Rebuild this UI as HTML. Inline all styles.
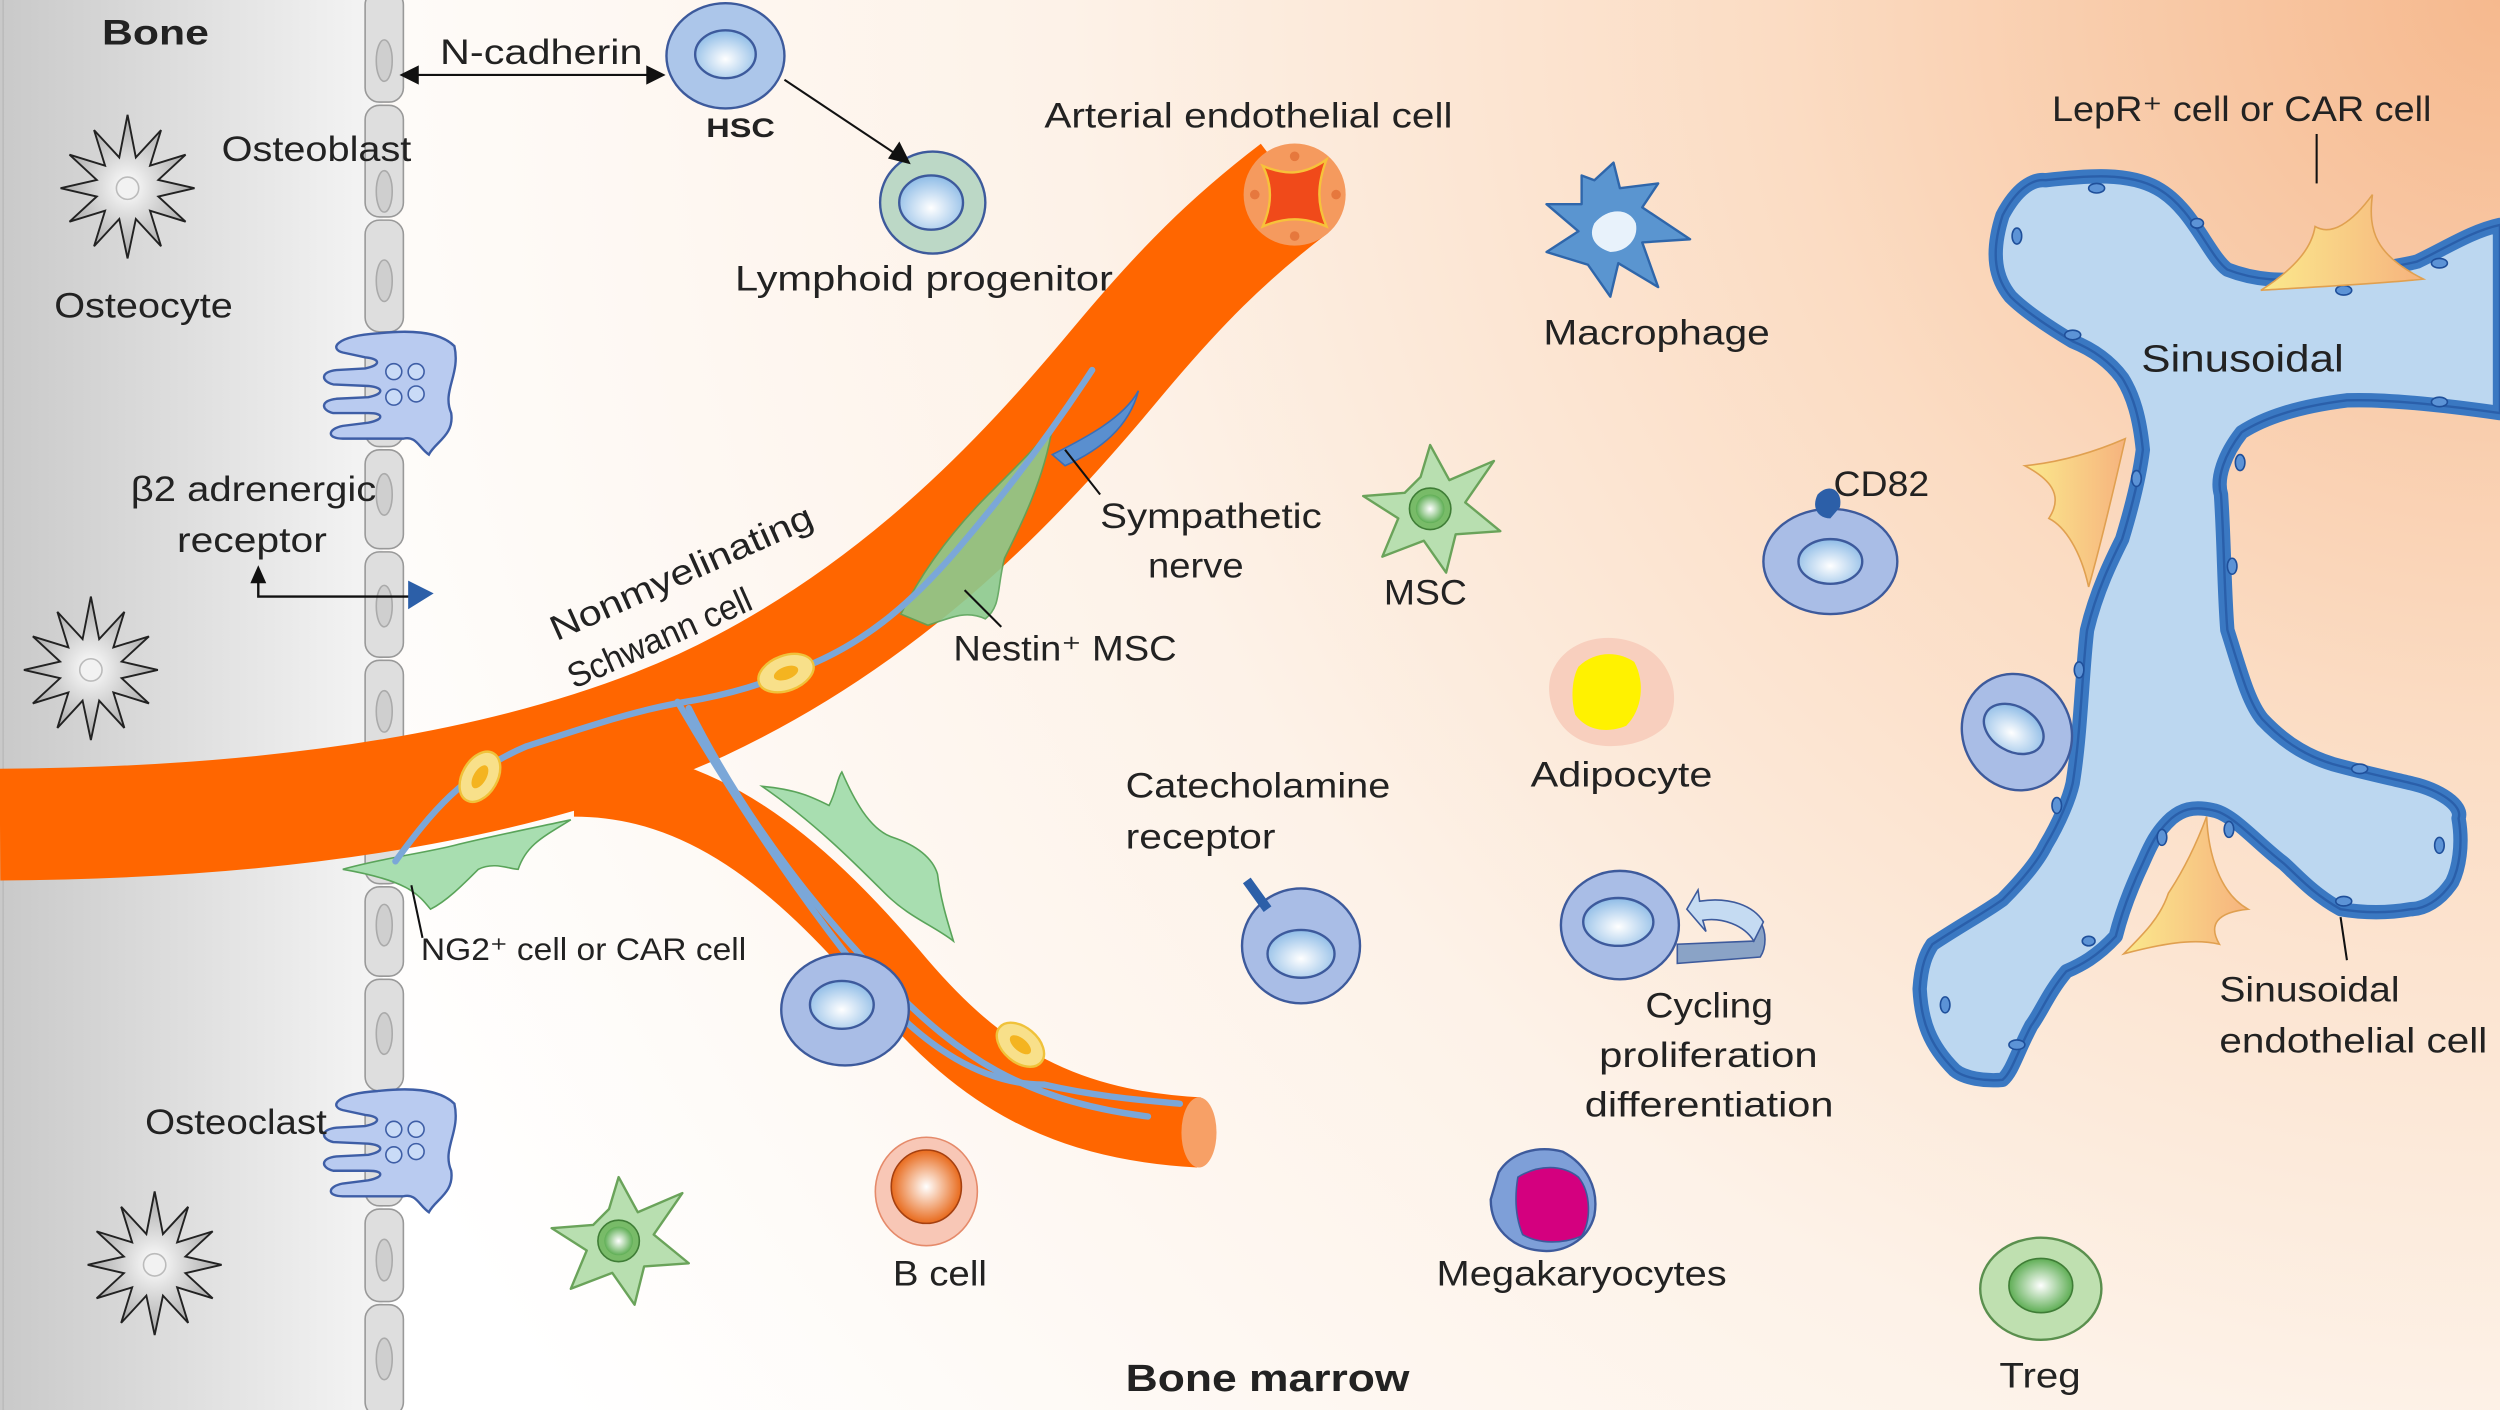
<!DOCTYPE html>
<html><head><meta charset="utf-8"><style>
html,body{margin:0;padding:0;width:2500px;height:1410px;overflow:hidden;background:#fff}
svg{display:block}
text{font-family:"Liberation Sans",sans-serif;fill:#222}
</style></head><body>
<svg width="2500" height="1410" viewBox="0 0 1568 884" preserveAspectRatio="none" xmlns="http://www.w3.org/2000/svg">
<defs>
<radialGradient id="bg" cx="1568" cy="0" r="1500" gradientUnits="userSpaceOnUse">
<stop offset="0" stop-color="#f6b98e"/><stop offset="0.3" stop-color="#fbdcc3"/><stop offset="0.6" stop-color="#fdf2e8"/><stop offset="1" stop-color="#ffffff"/>
</radialGradient>
<linearGradient id="bone" x1="0" x2="1" y1="0" y2="0"><stop offset="0" stop-color="#c9c9c9"/><stop offset="1" stop-color="#f5f5f5"/></linearGradient>
<radialGradient id="star" cx="0.5" cy="0.5" r="0.5"><stop offset="0" stop-color="#ffffff"/><stop offset="1" stop-color="#a8a8a8"/></radialGradient>
<radialGradient id="nuc" cx="0.5" cy="0.6" r="0.6"><stop offset="0" stop-color="#ffffff"/><stop offset="1" stop-color="#8dbbe6"/></radialGradient>
<radialGradient id="gnuc" cx="0.5" cy="0.5" r="0.5"><stop offset="0" stop-color="#ffffff"/><stop offset="1" stop-color="#5fae55"/></radialGradient>
<radialGradient id="onuc" cx="0.5" cy="0.5" r="0.5"><stop offset="0" stop-color="#ffffff"/><stop offset="1" stop-color="#e86a1c"/></radialGradient>
<linearGradient id="yel" x1="0" x2="1"><stop offset="0" stop-color="#fbe98c"/><stop offset="1" stop-color="#f6b37e"/></linearGradient>
<symbol id="ost" viewBox="-45 -45 90 90" overflow="visible">
<polygon points="42,0 19.3,5.2 36.4,21 14.1,14.1 21,36.4 5.2,19.3 0,44 -5.2,19.3 -21,36.4 -14.1,14.1 -36.4,21 -19.3,5.2 -42,0 -19.3,-5.2 -36.4,-21 -14.1,-14.1 -21,-36.4 -5.2,-19.3 0,-46 5.2,-19.3 21,-36.4 14.1,-14.1 36.4,-21 19.3,-5.2" fill="url(#star)" stroke="#222" stroke-width="1.2"/>
<circle r="7" fill="#f2f2f2" stroke="#bbb"/>
</symbol>
<symbol id="clast" viewBox="-45 -40 90 80" overflow="visible">
<path d="M-8,-36 C10,-38 30,-38 40,-28 C44,-10 32,0 38,14 C40,28 28,32 24,40 C18,36 16,28 8,30 L-30,30 C-40,30 -40,24 -30,22 L-14,20 C-4,18 -4,14 -14,14 L-36,14 C-44,12 -44,6 -34,5 L-14,4 C-4,2 -4,-2 -14,-3 L-36,-4 C-44,-6 -44,-12 -34,-13 L-16,-14 C-6,-16 -6,-20 -16,-21 L-30,-24 C-38,-26 -36,-34 -8,-36Z" fill="#b9cbf0" stroke="#3e5ea6" stroke-width="1.5"/>
<circle cx="2" cy="-12" r="5" fill="#c9dbf7" stroke="#3e5ea6"/><circle cx="16" cy="-12" r="5" fill="#c9dbf7" stroke="#3e5ea6"/>
<circle cx="2" cy="4" r="5" fill="#c9dbf7" stroke="#3e5ea6"/><circle cx="16" cy="2" r="5" fill="#c9dbf7" stroke="#3e5ea6"/>
</symbol>
<symbol id="gstar" viewBox="-45 -45 90 90" overflow="visible">
<path d="M-6,-20 L0,-40 L12,-18 L40,-30 L22,-4 L44,14 L16,16 L10,40 L-4,20 L-30,30 L-20,6 L-42,-8 L-16,-10Z" fill="#b8dfb0" stroke="#6aa35a" stroke-width="1.5" stroke-linejoin="round"/>
<circle r="13" fill="#78bb68" stroke="#3f7d36"/><circle r="9" fill="url(#gnuc)"/>
</symbol>
</defs>

<rect width="1568" height="884" fill="url(#bg)"/>
<rect x="0" y="0" width="240" height="884" fill="url(#bone)"/>
<line x1="2" y1="0" x2="2" y2="884" stroke="#bbb"/>

<!-- osteoblast column -->
<g fill="#dedede" stroke="#999" stroke-width="1">
<rect x="229" y="-6" width="24" height="70" rx="9"/><rect x="229" y="66" width="24" height="70" rx="9"/>
<rect x="229" y="138" width="24" height="70" rx="9"/><rect x="229" y="210" width="24" height="70" rx="9"/>
<rect x="229" y="282" width="24" height="62" rx="9"/><rect x="229" y="346" width="24" height="66" rx="9"/>
<rect x="229" y="414" width="24" height="68" rx="9"/><rect x="229" y="484" width="24" height="70" rx="9"/>
<rect x="229" y="556" width="24" height="56" rx="9"/><rect x="229" y="614" width="24" height="70" rx="9"/>
<rect x="229" y="686" width="24" height="70" rx="9"/><rect x="229" y="758" width="24" height="58" rx="9"/>
<rect x="229" y="818" width="24" height="70" rx="9"/>
</g>
<g fill="#cfcfcf" stroke="#aaa">
<ellipse cx="241" cy="38" rx="5" ry="13"/><ellipse cx="241" cy="120" rx="5" ry="13"/><ellipse cx="241" cy="176" rx="5" ry="13"/><ellipse cx="241" cy="310" rx="5" ry="13"/><ellipse cx="241" cy="380" rx="5" ry="13"/><ellipse cx="241" cy="446" rx="5" ry="13"/><ellipse cx="241" cy="580" rx="5" ry="13"/><ellipse cx="241" cy="648" rx="5" ry="13"/><ellipse cx="241" cy="790" rx="5" ry="13"/><ellipse cx="241" cy="852" rx="5" ry="13"/>
</g>

<use href="#ost" x="35" y="73" width="90" height="90"/>
<use href="#ost" x="12" y="375" width="90" height="90"/>
<use href="#ost" x="52" y="748" width="90" height="90"/>
<use href="#clast" x="200" y="205" width="90" height="80"/>
<use href="#clast" x="200" y="680" width="90" height="80"/>

<!-- vessels -->
<path d="M0,517 C180,516 330,492 440,442 C560,386 640,300 700,228 C740,180 770,150 812,118" fill="none" stroke="#ff6600" stroke-width="70"/>
<path d="M360,490 C440,490 500,540 560,610 C610,670 660,705 752,710" fill="none" stroke="#ff6600" stroke-width="44"/>
<ellipse cx="752" cy="710" rx="11" ry="22" fill="#f7a066"/>
<circle cx="812" cy="122" r="32" fill="#f59a5e"/>
<path d="M792,104 C806,110 818,110 832,100 C826,116 826,128 832,142 C818,136 806,136 792,142 C798,128 798,116 792,104Z" fill="#f04a1a" stroke="#f7c23a" stroke-width="1.5"/>
<g fill="#e06a30" opacity="0.7"><circle cx="812" cy="98" r="3"/><circle cx="838" cy="122" r="3"/><circle cx="812" cy="148" r="3"/><circle cx="787" cy="122" r="3"/></g>

<!-- green cells on vessel -->
<path d="M565,385 C580,355 600,330 620,310 C640,290 650,280 660,268 C655,300 640,330 630,350 C625,370 628,380 618,388 C605,382 595,388 582,392Z" fill="#8cca8e" stroke="#5aa45a" opacity="0.9"/>
<path d="M215,545 C240,538 265,535 285,530 C305,525 330,520 358,514 C340,525 330,530 325,545 C320,545 310,540 300,545 C290,555 280,565 270,570 C262,560 255,552 215,545Z" fill="#a8deb0" stroke="#5aa45a"/>
<path d="M478,493 C500,495 510,500 520,505 C525,495 525,488 528,484 C535,500 545,520 560,525 C575,530 585,538 588,548 C590,565 595,580 598,590 C585,580 570,575 555,560 C535,540 510,515 478,493Z" fill="#a8deb0" stroke="#5aa45a"/>

<!-- nerves -->
<g fill="none" stroke="#7ba7d8" stroke-width="4" stroke-linecap="round">
<path d="M248,540 C270,510 290,485 330,468 C370,455 400,445 430,440 C460,435 480,428 500,420 C540,405 570,380 600,345 C630,310 660,270 685,232"/>
<path d="M425,440 C460,500 500,560 540,610 C580,660 620,680 655,680 C690,688 720,690 740,692"/>
<path d="M432,444 C470,520 520,580 560,620 C600,660 640,690 720,700"/>
</g>
<path d="M660,285 C680,275 705,262 714,245 C708,268 690,282 668,292Z" fill="#5a8fcf" stroke="#3b6eb5"/>
<!-- schwann cells -->
<g fill="#f8e08a" stroke="#f0c23a" stroke-width="1.5">
<ellipse cx="493" cy="422" rx="18" ry="11" transform="rotate(-20 493 422)"/>
<ellipse cx="301" cy="487" rx="11" ry="17" transform="rotate(30 301 487)"/>
<ellipse cx="640" cy="655" rx="17" ry="11" transform="rotate(40 640 655)"/>
</g>
<g fill="#f4b420"><ellipse cx="493" cy="422" rx="8" ry="4" transform="rotate(-20 493 422)"/><ellipse cx="301" cy="487" rx="4" ry="8" transform="rotate(30 301 487)"/><ellipse cx="640" cy="655" rx="8" ry="4" transform="rotate(40 640 655)"/></g>

<!-- sinusoid -->
<path d="M1256,135 C1265,118 1275,112 1283,113 C1310,110 1335,108 1353,118 C1375,130 1385,160 1397,169 C1420,178 1440,175 1450,175 C1480,170 1500,168 1516,164 C1535,155 1550,145 1568,141 L1568,259 C1540,255 1500,250 1472,251 C1440,255 1420,262 1406,271 C1395,285 1390,300 1393,310 C1395,340 1395,370 1397,395 C1405,420 1410,440 1419,451 C1435,468 1450,475 1463,479 C1485,485 1500,488 1512,491 C1530,495 1545,505 1542,513 C1545,530 1542,545 1538,553 C1530,565 1520,570 1512,570 C1495,573 1480,572 1468,570 C1450,560 1440,548 1432,541 C1415,528 1400,510 1388,508 C1375,505 1368,508 1362,513 C1352,522 1348,532 1344,541 C1335,560 1330,575 1327,587 C1315,600 1305,605 1296,609 C1285,622 1280,635 1274,643 C1265,660 1262,672 1256,677 C1245,678 1232,676 1226,671 C1210,655 1205,640 1204,620 C1205,605 1208,598 1212,592 C1230,580 1245,572 1256,564 C1268,552 1278,540 1283,530 C1292,515 1298,500 1300,491 C1305,460 1306,420 1309,395 C1315,370 1325,350 1331,338 C1338,315 1342,298 1344,282 C1342,262 1338,248 1331,237 C1322,225 1310,218 1300,214 C1285,205 1270,195 1261,186 C1252,175 1248,160 1256,135Z" fill="#bcd7f0" stroke="#3a78c2" stroke-width="9" stroke-linejoin="round"/>
<path d="M1256,135 C1265,118 1275,112 1283,113 C1310,110 1335,108 1353,118 C1375,130 1385,160 1397,169 C1420,178 1440,175 1450,175 C1480,170 1500,168 1516,164 C1535,155 1550,145 1568,141 L1568,259 C1540,255 1500,250 1472,251 C1440,255 1420,262 1406,271 C1395,285 1390,300 1393,310 C1395,340 1395,370 1397,395 C1405,420 1410,440 1419,451 C1435,468 1450,475 1463,479 C1485,485 1500,488 1512,491 C1530,495 1545,505 1542,513 C1545,530 1542,545 1538,553 C1530,565 1520,570 1512,570 C1495,573 1480,572 1468,570 C1450,560 1440,548 1432,541 C1415,528 1400,510 1388,508 C1375,505 1368,508 1362,513 C1352,522 1348,532 1344,541 C1335,560 1330,575 1327,587 C1315,600 1305,605 1296,609 C1285,622 1280,635 1274,643 C1265,660 1262,672 1256,677 C1245,678 1232,676 1226,671 C1210,655 1205,640 1204,620 C1205,605 1208,598 1212,592 C1230,580 1245,572 1256,564 C1268,552 1278,540 1283,530 C1292,515 1298,500 1300,491 C1305,460 1306,420 1309,395 C1315,370 1325,350 1331,338 C1338,315 1342,298 1344,282 C1342,262 1338,248 1331,237 C1322,225 1310,218 1300,214 C1285,205 1270,195 1261,186 C1252,175 1248,160 1256,135Z" fill="none" stroke="#1f4f9a" stroke-width="1.5" opacity="0.6" transform="translate(0,0)"/>
<g fill="#5c93d6" stroke="#1f4f9a" stroke-width="1">
<ellipse cx="1265" cy="148" rx="3" ry="5"/><ellipse cx="1315" cy="118" rx="5" ry="3"/><ellipse cx="1378" cy="140" rx="4" ry="3"/><ellipse cx="1470" cy="182" rx="5" ry="3"/><ellipse cx="1530" cy="165" rx="5" ry="3"/><ellipse cx="1530" cy="252" rx="5" ry="3"/><ellipse cx="1405" cy="290" rx="3" ry="5"/><ellipse cx="1400" cy="355" rx="3" ry="5"/><ellipse cx="1480" cy="482" rx="5" ry="3"/><ellipse cx="1530" cy="530" rx="3" ry="5"/><ellipse cx="1470" cy="565" rx="5" ry="3"/><ellipse cx="1398" cy="520" rx="3" ry="5"/><ellipse cx="1356" cy="525" rx="3" ry="5"/><ellipse cx="1310" cy="590" rx="4" ry="3"/><ellipse cx="1265" cy="655" rx="5" ry="3"/><ellipse cx="1220" cy="630" rx="3" ry="5"/><ellipse cx="1290" cy="505" rx="3" ry="5"/><ellipse cx="1304" cy="420" rx="3" ry="5"/><ellipse cx="1340" cy="300" rx="3" ry="5"/><ellipse cx="1300" cy="210" rx="5" ry="3"/></g>
<!-- LepR cells -->
<path d="M1418,182 C1440,168 1450,155 1452,142 C1462,148 1475,140 1488,122 C1485,145 1490,160 1520,175 C1490,178 1450,180 1418,182Z" fill="url(#yel)" stroke="#e0a050"/>
<path d="M1333,275 C1310,285 1290,290 1270,292 C1285,300 1295,310 1285,325 C1295,330 1305,345 1310,368 C1318,340 1325,310 1333,275Z" fill="url(#yel)" stroke="#e0a050"/>
<path d="M1332,598 C1345,585 1355,575 1360,560 C1370,545 1378,528 1384,512 C1385,535 1392,560 1410,570 C1390,572 1385,580 1392,592 C1375,588 1355,592 1332,598Z" fill="url(#yel)" stroke="#e0a050"/>

<!-- cells -->
<g stroke="#3d5a9c" stroke-width="1.5">
<ellipse cx="455" cy="35" rx="37" ry="33" fill="#acc6ea"/><ellipse cx="455" cy="34" rx="19" ry="15" fill="url(#nuc)"/>
<ellipse cx="585" cy="127" rx="33" ry="32" fill="#bcd8c6"/><ellipse cx="584" cy="127" rx="20" ry="17" fill="url(#nuc)"/>
<ellipse cx="530" cy="633" rx="40" ry="35" fill="#a9bde6"/><ellipse cx="528" cy="630" rx="20" ry="15" fill="url(#nuc)"/>
<ellipse cx="816" cy="593" rx="37" ry="36" fill="#a9bde6"/><ellipse cx="816" cy="598" rx="21" ry="15" fill="url(#nuc)"/>
<ellipse cx="1148" cy="352" rx="42" ry="33" fill="#a9bde6"/><ellipse cx="1148" cy="352" rx="20" ry="14" fill="url(#nuc)"/>
<ellipse cx="1265" cy="459" rx="34" ry="37" fill="#a9bde6" transform="rotate(-25 1265 459)"/><ellipse cx="1263" cy="457" rx="20" ry="14" fill="url(#nuc)" transform="rotate(30 1263 457)"/>
<ellipse cx="1016" cy="580" rx="37" ry="34" fill="#a9bde6"/><ellipse cx="1015" cy="578" rx="22" ry="15" fill="url(#nuc)"/>
</g>
<line x1="782" y1="552" x2="795" y2="570" stroke="#2c5fa8" stroke-width="6"/>
<path d="M1140,310 C1148,302 1156,308 1154,318 L1148,325 C1140,325 1136,318 1140,310Z" fill="#2c5fa8"/>
<!-- cycle arrow -->
<path d="M1052,592 L1052,604 L1104,600 C1108,594 1108,584 1104,578 L1100,590 Z" fill="#8aa3c6" stroke="#3d5a9c"/>
<path d="M1058,570 L1065,558 L1066,565 C1085,562 1100,568 1106,578 L1100,590 C1094,580 1080,575 1068,577 L1070,584Z" fill="#c5dbf2" stroke="#3d5a9c"/>
<!-- B cell, treg, mega, adipocyte -->
<ellipse cx="581" cy="747" rx="32" ry="34" fill="#f8c7b6" stroke="#e58a6a"/><ellipse cx="581" cy="744" rx="22" ry="23" fill="url(#onuc)" stroke="#a54010"/>
<ellipse cx="1280" cy="808" rx="38" ry="32" fill="#bfe0b0" stroke="#5a8f4e" stroke-width="1.5"/><ellipse cx="1280" cy="806" rx="20" ry="17" fill="url(#gnuc)" stroke="#3f7d36"/>
<path d="M940,735 C948,722 965,718 980,722 C995,730 1003,745 1000,762 C996,778 980,786 965,784 C948,782 935,770 935,752Z" fill="#7e9fd8" stroke="#3d5a9c" stroke-width="1.5"/>
<path d="M952,738 C965,730 980,730 990,738 C998,748 998,765 992,775 C980,780 965,780 955,774 C950,762 950,750 952,738Z" fill="#d4007f" stroke="#3d5a9c"/>
<path d="M975,418 C985,400 1010,395 1030,405 C1050,415 1055,440 1045,455 C1030,470 1000,472 985,460 C972,450 968,430 975,418Z" fill="#f8cfbe"/>
<path d="M990,418 C1000,408 1015,408 1025,415 C1032,428 1030,445 1020,455 C1008,460 995,458 988,448 C985,438 986,425 990,418Z" fill="#fff200"/>
<!-- macrophage -->
<path d="M992,110 L1000,113 L1012,102 L1016,118 L1040,115 L1030,130 L1060,150 L1030,152 L1040,180 L1015,165 L1010,186 L996,166 L970,158 L990,145 L970,128 L992,128Z" fill="#5a95d0" stroke="#2f66aa" stroke-width="1.5" stroke-linejoin="round"/>
<path d="M1000,140 C1008,130 1022,130 1026,140 C1028,150 1020,158 1010,158 C1000,155 996,148 1000,140Z" fill="#e8f2fb"/>
<use href="#gstar" x="852" y="274" width="90" height="90"/>
<use href="#gstar" x="343" y="733" width="90" height="90"/>

<!-- connectors -->
<g stroke="#111" stroke-width="1.3" fill="#111">
<line x1="258" y1="47" x2="410" y2="47"/>
<polygon points="252,47 262,42 262,52"/><polygon points="416,47 406,42 406,52"/>
<line x1="492" y1="50" x2="564" y2="98"/><polygon points="570,102 558,99 564,90"/>
<path d="M258,374 L162,374 L162,362" fill="none" stroke-width="1.5"/><polygon points="162,356 158,365 166,365"/>
<line x1="690" y1="310" x2="668" y2="282" fill="none"/>
<line x1="628" y1="393" x2="605" y2="370" fill="none"/>
<line x1="265" y1="588" x2="258" y2="555" fill="none"/>
<line x1="1453" y1="84" x2="1453" y2="115" fill="none"/>
<line x1="1472" y1="602" x2="1468" y2="575" fill="none"/>
</g>
<polygon points="256,364 272,372 256,382" fill="#2c5fa8"/>

<!-- labels -->
<text x="64" y="28" font-size="22" font-weight="bold" textLength="67" lengthAdjust="spacingAndGlyphs">Bone</text>
<text x="276" y="40" font-size="22" textLength="127" lengthAdjust="spacingAndGlyphs">N-cadherin</text>
<text x="443" y="86" font-size="17" font-weight="bold" textLength="43" lengthAdjust="spacingAndGlyphs">HSC</text>
<text x="461" y="182" font-size="22" textLength="237" lengthAdjust="spacingAndGlyphs">Lymphoid progenitor</text>
<text x="655" y="80" font-size="22" textLength="256" lengthAdjust="spacingAndGlyphs">Arterial endothelial cell</text>
<text x="139" y="101" font-size="22" textLength="119" lengthAdjust="spacingAndGlyphs">Osteoblast</text>
<text x="34" y="199" font-size="22" textLength="112" lengthAdjust="spacingAndGlyphs">Osteocyte</text>
<text x="82" y="314" font-size="22" textLength="154" lengthAdjust="spacingAndGlyphs">β2 adrenergic</text>
<text x="111" y="346" font-size="22" textLength="94" lengthAdjust="spacingAndGlyphs">receptor</text>
<text x="0" y="0" font-size="22" transform="translate(349,402) rotate(-24)" textLength="178" lengthAdjust="spacingAndGlyphs">Nonmyelinating</text>
<text x="0" y="0" font-size="22" transform="translate(360,432) rotate(-24)" textLength="124" lengthAdjust="spacingAndGlyphs">Schwann cell</text>
<text x="690" y="331" font-size="22" textLength="139" lengthAdjust="spacingAndGlyphs">Sympathetic</text>
<text x="720" y="362" font-size="22" textLength="60" lengthAdjust="spacingAndGlyphs">nerve</text>
<text x="598" y="414" font-size="22" textLength="140" lengthAdjust="spacingAndGlyphs">Nestin⁺ MSC</text>
<text x="264" y="602" font-size="20" textLength="204" lengthAdjust="spacingAndGlyphs">NG2⁺ cell or CAR cell</text>
<text x="706" y="500" font-size="22" textLength="166" lengthAdjust="spacingAndGlyphs">Catecholamine</text>
<text x="706" y="532" font-size="22" textLength="94" lengthAdjust="spacingAndGlyphs">receptor</text>
<text x="91" y="711" font-size="22" textLength="114" lengthAdjust="spacingAndGlyphs">Osteoclast</text>
<text x="560" y="806" font-size="22" textLength="59" lengthAdjust="spacingAndGlyphs">B cell</text>
<text x="706" y="872" font-size="24" font-weight="bold" textLength="178" lengthAdjust="spacingAndGlyphs">Bone marrow</text>
<text x="968" y="216" font-size="22" textLength="142" lengthAdjust="spacingAndGlyphs">Macrophage</text>
<text x="868" y="379" font-size="22" textLength="52" lengthAdjust="spacingAndGlyphs">MSC</text>
<text x="1150" y="311" font-size="22" textLength="60" lengthAdjust="spacingAndGlyphs">CD82</text>
<text x="960" y="493" font-size="22" textLength="114" lengthAdjust="spacingAndGlyphs">Adipocyte</text>
<text x="1032" y="638" font-size="22" textLength="80" lengthAdjust="spacingAndGlyphs">Cycling</text>
<text x="1003" y="669" font-size="22" textLength="137" lengthAdjust="spacingAndGlyphs">proliferation</text>
<text x="994" y="700" font-size="22" textLength="156" lengthAdjust="spacingAndGlyphs">differentiation</text>
<text x="901" y="806" font-size="22" textLength="182" lengthAdjust="spacingAndGlyphs">Megakaryocytes</text>
<text x="1254" y="870" font-size="22" textLength="51" lengthAdjust="spacingAndGlyphs">Treg</text>
<text x="1287" y="76" font-size="22" textLength="238" lengthAdjust="spacingAndGlyphs">LepR⁺ cell or CAR cell</text>
<text x="1343" y="233" font-size="24" textLength="127" lengthAdjust="spacingAndGlyphs">Sinusoidal</text>
<text x="1392" y="628" font-size="22" textLength="113" lengthAdjust="spacingAndGlyphs">Sinusoidal</text>
<text x="1392" y="660" font-size="22" textLength="168" lengthAdjust="spacingAndGlyphs">endothelial cell</text>
</svg>
</body></html>
